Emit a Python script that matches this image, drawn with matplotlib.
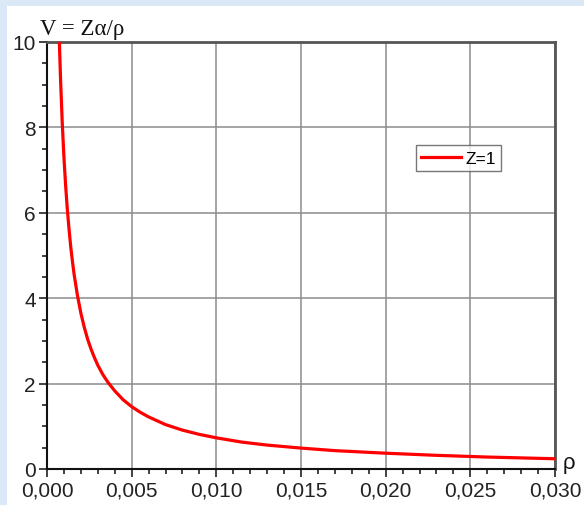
import matplotlib.pyplot as plt
from matplotlib.patches import Rectangle
from matplotlib.ticker import MultipleLocator, FuncFormatter

rho = [0.00073, 0.0008, 0.0009, 0.0010, 0.0011, 0.0012, 0.0013, 0.0014,
       0.0015, 0.0016, 0.0018, 0.0020, 0.0022, 0.0024, 0.0026, 0.0028,
       0.0030, 0.0033, 0.0036, 0.0040, 0.0045, 0.0050, 0.0055, 0.0060,
       0.0070, 0.0080, 0.0090, 0.0100, 0.0115, 0.0130, 0.0150, 0.0170,
       0.0200, 0.0230, 0.0260, 0.0300]
V = [10.00, 9.13, 8.11, 7.30, 6.64, 6.08, 5.62, 5.21,
     4.87, 4.56, 4.06, 3.65, 3.32, 3.04, 2.81, 2.61,
     2.43, 2.21, 2.03, 1.83, 1.62, 1.46, 1.33, 1.22,
     1.04, 0.91, 0.81, 0.73, 0.63, 0.56, 0.49, 0.43,
     0.37, 0.32, 0.28, 0.24]
etiqueta = "Z=1"

fig = plt.figure(figsize=(5.84, 5.06), dpi=100)
fig.patch.set_facecolor("#dbe8f6")
fondo = Rectangle((7 / 584, 0), 1, 1 - 7 / 506, transform=fig.transFigure,
                  facecolor="white", edgecolor="none", zorder=-10)
fig.add_artist(fondo)

ax = fig.add_axes([47 / 584, 36 / 506, 508 / 584, 427 / 506])
ax.plot(rho, V, color="#ff0000", linewidth=2.3, label=etiqueta, zorder=3)

ax.set_xlim(0, 0.030)
ax.set_ylim(0, 10)
ax.xaxis.set_major_locator(MultipleLocator(0.005))
ax.xaxis.set_minor_locator(MultipleLocator(0.001))
ax.yaxis.set_major_locator(MultipleLocator(2))
ax.yaxis.set_minor_locator(MultipleLocator(0.5))
ax.xaxis.set_major_formatter(FuncFormatter(lambda x, p: f"{x:.3f}".replace(".", ",")))
ax.yaxis.set_major_formatter(FuncFormatter(lambda y, p: f"{y:.0f}"))

fuente = "Liberation Sans"
for lbl in ax.get_xticklabels() + ax.get_yticklabels():
    lbl.set_fontfamily(fuente)
ax.tick_params(which="major", direction="out", length=6, width=1.2,
               labelsize=15, colors="#222222", pad=2)
ax.tick_params(which="minor", direction="out", length=3.5, width=1.2, colors="#222222")

ax.grid(True, which="major", color="#8c8c8c", linewidth=1.1)
ax.set_axisbelow(True)

ax.spines["left"].set_color("#111111")
ax.spines["left"].set_linewidth(1.5)
ax.spines["bottom"].set_color("#111111")
ax.spines["bottom"].set_linewidth(1.5)
ax.spines["top"].set_color("#555555")
ax.spines["top"].set_linewidth(2)
ax.spines["right"].set_color("#555555")
ax.spines["right"].set_linewidth(2)

ax.text(-0.014, 1.008, "V = Z\u03b1/\u03c1", transform=ax.transAxes, fontsize=16.5,
        family="Liberation Serif", ha="left", va="bottom", color="#111111")
ax.text(1.015, 0.015, "\u03c1", transform=ax.transAxes, fontsize=16,
        family=fuente, ha="left", va="center", color="#111111")

leg = ax.legend(loc="center", bbox_to_anchor=(0.81, 0.728),
                prop={"family": fuente, "size": 12.5}, frameon=True, fancybox=False,
                handlelength=2.3, handletextpad=0.25, borderpad=0.3,
                borderaxespad=0)
leg.get_frame().set_edgecolor("#555555")
leg.get_frame().set_linewidth(1.0)

fig.savefig("out.png", dpi=100, facecolor=fig.get_facecolor())
